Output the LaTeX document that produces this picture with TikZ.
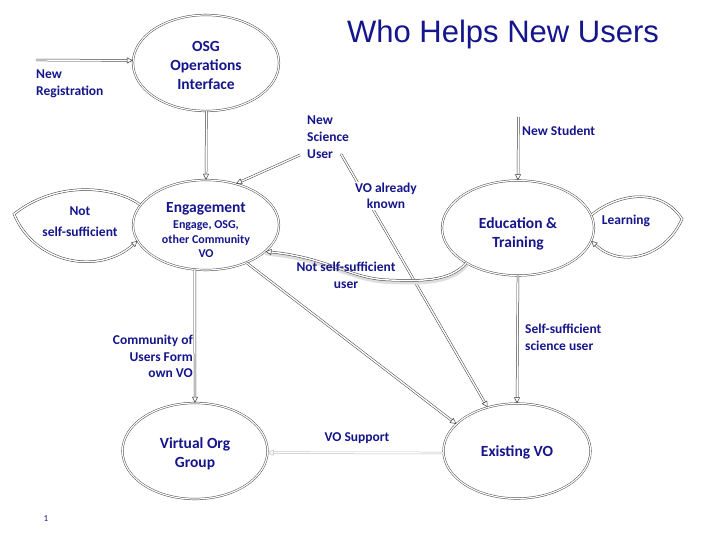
\documentclass[tikz,border=0pt]{standalone}
\usepackage{fontspec}
\setmainfont{Carlito}
\newfontfamily\titlefont{Liberation Sans}
\usetikzlibrary{shapes.geometric,arrows.meta}
\definecolor{txtblue}{RGB}{22,22,140}
\newcommand\subfnt{\fontsize{12}{14.5}\selectfont}
\begin{document}
\begin{tikzpicture}[x=1pt,y=-1pt,
  oval/.style={ellipse, draw=black!75, double=white, double distance=1.2pt, line width=0.45pt, inner sep=0pt},
  conn/.style={draw=black!75, double=white, double distance=1.4pt, line width=0.5pt, -{Triangle[open,length=6pt,width=6pt]}},
  faint/.style={draw=black!25, double=white, double distance=1.4pt, line width=0.5pt, -{Triangle[open,length=6pt,width=6pt]}},
  shadowline/.style={draw=black!13, line width=3pt, line cap=round},
  lbl/.style={text=txtblue, font=\bfseries\fontsize{13.5}{17}\selectfont, inner sep=1pt},
  big/.style={text=txtblue, font=\bfseries\fontsize{15.5}{19}\selectfont, align=center, inner sep=0pt},
]
\useasboundingbox (0,0) rectangle (720,540);
\fill[white] (0,0) rectangle (720,540);

% title
\node[anchor=base, text=txtblue, font=\titlefont\fontsize{31}{36}\selectfont, inner sep=0pt] (title) at (503,43) {Who Helps New Users};

% ellipses
\node[oval, minimum width=146pt, minimum height=96pt,
  label={[big,yshift=-2pt]center:OSG\\Operations\\Interface}] (osg) at (206,63) {};
\node[oval, minimum width=146pt, minimum height=90pt,
  label={[big,yshift=-7.5pt]center:Engagement\\[2pt]{\subfnt\begin{tabular}{@{}c@{}}Engage, OSG,\\other Community\\VO\end{tabular}}}] (eng) at (206,225) {};
\node[oval, minimum width=152pt, minimum height=95pt,
  label={[big,yshift=-6pt]center:Education \&\\Training}] (edu) at (518,228) {};
\node[oval, minimum width=145pt, minimum height=96pt,
  label={[big,yshift=-2.5pt]center:Virtual Org\\Group}] (vog) at (195,451) {};
\node[oval, minimum width=147pt, minimum height=95pt,
  label={[big,yshift=-1pt]center:Existing VO}] (evo) at (517,451) {};

% free ends
\coordinate (nrstart) at (36,60);
\coordinate (nsustart) at (300,155);
\coordinate (vokstart) at (341,154);
\coordinate (nststart) at (518.4,117);

% connectors
\draw[conn] (nrstart) -- (osg.178);
\draw[conn] ([xshift=0.4pt]osg.south) -- (eng.north);
\draw[conn] (nsustart) -- (eng.54);
\draw[conn] (vokstart) -- (evo.124);
\draw[conn] (eng.-43) -- (evo.156);
\draw[conn] (nststart) -- (edu.north);
\draw[conn] (edu.south) -- (evo.north);
\draw[conn] (eng.256) -- (vog.north);
\draw[faint] ([yshift=-2pt]evo.west) -- ([yshift=-1.6pt]vog.east);

% loops
\draw[conn] (eng.163) .. controls (118,188) and (60,178) .. (14,214)
            .. controls (35,265) and (100,275) .. (eng.193);
\draw[conn] (edu.10) .. controls (615,195) and (660,185) .. (682,219)
            .. controls (665,258) and (620,268) .. (edu.-10);

% curved "not self-sufficient user" with shadow
\draw[shadowline, transform canvas={shift={(0.8pt,-2.5pt)}}] (edu.214) .. controls (450,282) and (420,281) .. (390,280)
            .. controls (350,279) and (330,258) .. (eng.336);
\draw[conn] (edu.214) .. controls (450,282) and (420,281) .. (390,280)
            .. controls (350,279) and (330,258) .. (eng.336);

% labels
\node[lbl, anchor=west, align=left] (lnr) at (35,83.5) {New\\Registration};
\node[lbl, anchor=west, align=left] (lnsu) at (306,137) {New\\Science\\User};
\node[lbl, align=center, fill=white, font=\bfseries\fontsize{13.5}{16.5}\selectfont] (lvok) at (386,196) {VO already\\known};
\node[lbl, anchor=west] (lnst) at (521,131) {New Student};
\node[lbl] (llearn) at (626,221) {Learning};
\node[lbl, align=center] (lnss) at (346,275.5) {Not self-sufficient\\user};
\node[lbl, align=center, font=\bfseries\fontsize{13.5}{21}\selectfont] (lnsl) at (80,221.5) {Not\\self-sufficient};
\node[lbl, anchor=east, align=right, font=\bfseries\fontsize{13.5}{16.5}\selectfont] (lcom) at (194,356.5) {Community of\\Users Form\\own VO};
\node[lbl, anchor=west, align=left] (lssu) at (524,337.5) {Self-sufficient\\science user};
\node[lbl] (lvos) at (357,438) {VO Support};
\node[text=txtblue, font=\fontsize{9}{11}\selectfont, inner sep=0pt] (pnum) at (46,519) {1};
\end{tikzpicture}
\end{document}
